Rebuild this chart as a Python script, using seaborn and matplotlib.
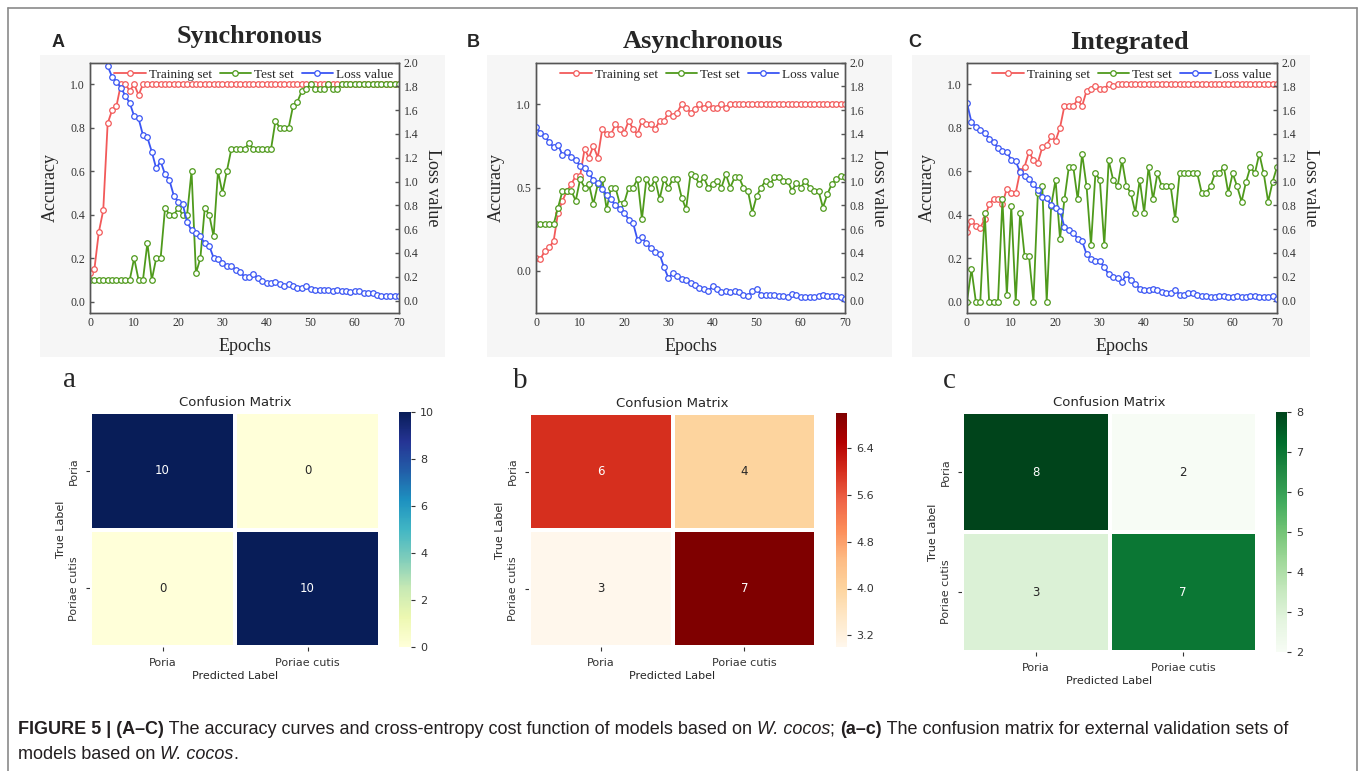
import numpy as np
import pandas as pd
import matplotlib
matplotlib.use("Agg")
import matplotlib.pyplot as plt
import seaborn as sns
from matplotlib.lines import Line2D
from matplotlib.patches import Rectangle
from matplotlib.transforms import IdentityTransform

# ---- data ----
epochs = np.arange(71)

sync_train = [0.13, 0.15, 0.32, 0.42, 0.82, 0.88, 0.90, 1.0, 1.0, 0.97,
              1.0, 0.95, 1.0, 1.0, 1.0, 1.0, 1.0, 1.0, 1.0, 1.0,
              1.0, 1.0, 1.0, 1.0, 1.0, 1.0, 1.0, 1.0, 1.0, 1.0,
              1.0, 1.0, 1.0, 1.0, 1.0, 1.0, 1.0, 1.0, 1.0, 1.0,
              1.0, 1.0, 1.0, 1.0, 1.0, 1.0, 1.0, 1.0, 1.0, 1.0,
              1.0, 1.0, 1.0, 1.0, 1.0, 1.0, 1.0, 1.0, 1.0, 1.0,
              1.0, 1.0, 1.0, 1.0, 1.0, 1.0, 1.0, 1.0, 1.0, 1.0, 1.0]
sync_test = [0.1, 0.1, 0.1, 0.1, 0.1, 0.1, 0.1, 0.1, 0.1, 0.1,
             0.2, 0.1, 0.1, 0.27, 0.1, 0.2, 0.2, 0.43, 0.4, 0.4,
             0.43, 0.4, 0.4, 0.6, 0.13, 0.2, 0.43, 0.4, 0.3, 0.6,
             0.5, 0.6, 0.7, 0.7, 0.7, 0.7, 0.73, 0.7, 0.7, 0.7,
             0.7, 0.7, 0.83, 0.8, 0.8, 0.8, 0.9, 0.92, 0.97, 0.98,
             1.0, 0.98, 0.98, 0.98, 1.0, 0.98, 0.98, 1.0, 1.0, 1.0,
             1.0, 1.0, 1.0, 1.0, 1.0, 1.0, 1.0, 1.0, 1.0, 1.0, 1.0]
sync_loss = [np.nan, np.nan, np.nan, np.nan, 1.97, 1.88, 1.84, 1.79, 1.72, 1.66,
             1.55, 1.53, 1.39, 1.37, 1.25, 1.11, 1.17, 1.06, 1.01, 0.88,
             0.83, 0.81, 0.66, 0.59, 0.57, 0.54, 0.48, 0.46, 0.36, 0.35,
             0.32, 0.29, 0.29, 0.26, 0.24, 0.20, 0.20, 0.22, 0.19, 0.165,
             0.15, 0.15, 0.16, 0.14, 0.12, 0.14, 0.12, 0.11, 0.11, 0.12,
             0.10, 0.09, 0.09, 0.09, 0.09, 0.08, 0.09, 0.08, 0.08, 0.07,
             0.08, 0.08, 0.06, 0.06, 0.06, 0.05, 0.04, 0.04, 0.04, 0.04, 0.04]

async_train = [0.08, 0.07, 0.12, 0.14, 0.18, 0.35, 0.42, 0.48, 0.52, 0.57,
               0.57, 0.73, 0.68, 0.75, 0.68, 0.85, 0.82, 0.82, 0.88, 0.85,
               0.83, 0.90, 0.85, 0.82, 0.90, 0.88, 0.88, 0.85, 0.90, 0.90,
               0.95, 0.93, 0.95, 1.0, 0.98, 0.95, 0.97, 1.0, 0.98, 1.0,
               0.98, 0.98, 1.0, 0.98, 1.0, 1.0, 1.0, 1.0, 1.0, 1.0,
               1.0, 1.0, 1.0, 1.0, 1.0, 1.0, 1.0, 1.0, 1.0, 1.0,
               1.0, 1.0, 1.0, 1.0, 1.0, 1.0, 1.0, 1.0, 1.0, 1.0, 1.0]
async_test = [0.28, 0.28, 0.28, 0.28, 0.28, 0.38, 0.48, 0.48, 0.48, 0.42,
              0.55, 0.50, 0.52, 0.40, 0.52, 0.55, 0.37, 0.50, 0.50, 0.40,
              0.41, 0.50, 0.50, 0.55, 0.31, 0.55, 0.50, 0.55, 0.43, 0.55,
              0.50, 0.55, 0.55, 0.44, 0.37, 0.58, 0.57, 0.52, 0.56, 0.50,
              0.52, 0.54, 0.50, 0.58, 0.50, 0.56, 0.56, 0.50, 0.48, 0.35,
              0.45, 0.50, 0.54, 0.52, 0.56, 0.56, 0.54, 0.54, 0.48, 0.53,
              0.50, 0.54, 0.50, 0.48, 0.48, 0.38, 0.46, 0.52, 0.55, 0.57, 0.56]
async_loss = [1.46, 1.41, 1.38, 1.33, 1.29, 1.31, 1.22, 1.25, 1.21, 1.18,
              1.13, 1.11, 1.07, 1.01, 0.99, 0.94, 0.89, 0.85, 0.80, 0.77,
              0.74, 0.68, 0.65, 0.51, 0.53, 0.48, 0.44, 0.41, 0.39, 0.28,
              0.19, 0.23, 0.21, 0.18, 0.17, 0.15, 0.13, 0.11, 0.10, 0.08,
              0.12, 0.10, 0.07, 0.08, 0.07, 0.08, 0.07, 0.05, 0.04, 0.08,
              0.10, 0.05, 0.045, 0.05, 0.045, 0.04, 0.04, 0.03, 0.055, 0.05,
              0.03, 0.03, 0.03, 0.03, 0.04, 0.05, 0.04, 0.035, 0.035, 0.03, 0.01]

integ_train = [0.32, 0.37, 0.35, 0.34, 0.38, 0.45, 0.47, 0.47, 0.45, 0.52,
               0.50, 0.50, 0.60, 0.62, 0.69, 0.65, 0.64, 0.71, 0.72, 0.76,
               0.74, 0.80, 0.90, 0.90, 0.90, 0.93, 0.90, 0.97, 0.98, 0.99,
               0.98, 0.98, 1.0, 0.99, 1.0, 1.0, 1.0, 1.0, 1.0, 1.0,
               1.0, 1.0, 1.0, 1.0, 1.0, 1.0, 1.0, 1.0, 1.0, 1.0,
               1.0, 1.0, 1.0, 1.0, 1.0, 1.0, 1.0, 1.0, 1.0, 1.0,
               1.0, 1.0, 1.0, 1.0, 1.0, 1.0, 1.0, 1.0, 1.0, 1.0, 1.0]
integ_test = [0.0, 0.15, 0.0, 0.0, 0.41, 0.0, 0.0, 0.0, 0.47, 0.03,
              0.44, 0.0, 0.41, 0.21, 0.21, 0.0, 0.50, 0.53, 0.0, 0.44,
              0.56, 0.29, 0.47, 0.62, 0.62, 0.47, 0.68, 0.53, 0.26, 0.59,
              0.56, 0.26, 0.65, 0.56, 0.53, 0.65, 0.53, 0.50, 0.41, 0.56,
              0.41, 0.62, 0.47, 0.59, 0.53, 0.53, 0.53, 0.38, 0.59, 0.59,
              0.59, 0.59, 0.59, 0.50, 0.50, 0.53, 0.59, 0.59, 0.62, 0.50,
              0.59, 0.53, 0.46, 0.55, 0.62, 0.59, 0.68, 0.59, 0.46, 0.55, 0.62]
integ_loss = [1.66, 1.50, 1.46, 1.43, 1.41, 1.36, 1.33, 1.28, 1.26, 1.25,
              1.18, 1.17, 1.08, 1.05, 1.02, 0.98, 0.93, 0.87, 0.86, 0.80,
              0.78, 0.75, 0.62, 0.59, 0.57, 0.52, 0.50, 0.39, 0.35, 0.33,
              0.33, 0.28, 0.22, 0.20, 0.19, 0.16, 0.22, 0.17, 0.14, 0.10,
              0.09, 0.09, 0.10, 0.09, 0.07, 0.065, 0.06, 0.09, 0.05, 0.05,
              0.06, 0.06, 0.05, 0.04, 0.04, 0.03, 0.03, 0.04, 0.035, 0.03,
              0.03, 0.035, 0.03, 0.03, 0.04, 0.035, 0.03, 0.03, 0.03, 0.035, 0.01]

panel_titles = ["Synchronous", "Asynchronous", "Integrated"]
panel_letters = ["A", "B", "C"]
cm_letters = ["a", "b", "c"]
class_names = ["Poria", "Poriae cutis"]
cm_sync = [[10, 0], [0, 10]]
cm_async = [[6, 4], [3, 7]]
cm_integ = [[8, 2], [3, 7]]

# ---- figure ----
sns.set_style("white")
W, H = 1362, 771
fig = plt.figure(figsize=(W / 100, H / 100), dpi=100)
fig.patch.set_facecolor("white")

def fx(px):
    return px / W

def fy(py):
    return 1 - py / H

SERIF = "Liberation Serif"
SANS = "Liberation Sans"
RED, GREEN, BLUE = "#f25a5a", "#4f9a1c", "#3a55f4"

# light grey backdrop behind the accuracy charts
for x0, x1 in [(40, 445), (487, 892), (912, 1310)]:
    fig.add_artist(Rectangle((fx(x0), fy(357)), fx(x1) - fx(x0), fy(55) - fy(357),
                             transform=fig.transFigure, facecolor="#f6f6f6",
                             edgecolor="none", zorder=0))

line_panels = [
    (90, 399, sync_train, sync_test, sync_loss, (-0.05, 1.1), [0, 0.2, 0.4, 0.6, 0.8, 1.0]),
    (536, 845, async_train, async_test, async_loss, (-0.25, 1.25), [0.0, 0.5, 1.0]),
    (967, 1277, integ_train, integ_test, integ_loss, (-0.05, 1.1), [0, 0.2, 0.4, 0.6, 0.8, 1.0]),
]
title_pos = [(249, 43), (703, 48), (1129, 49)]
letter_pos = [(52, 47), (467, 47), (908, 47)]

for i, (x0, x1, tr, te, lo, ylim, yt) in enumerate(line_panels):
    ax = fig.add_axes([fx(x0), fy(312.5), fx(x1) - fx(x0), fy(62.5) - fy(312.5)])
    ax.set_facecolor("white")
    ax2 = ax.twinx()
    df = pd.DataFrame({"Epoch": epochs, "train": tr, "test": te, "loss": lo})
    kw = dict(marker="o", markersize=4, markerfacecolor="white", markeredgewidth=0.9,
              linewidth=1.3, legend=False)
    sns.lineplot(data=df, x="Epoch", y="train", ax=ax, color=RED, markeredgecolor=RED, **kw)
    sns.lineplot(data=df, x="Epoch", y="test", ax=ax, color=GREEN, markeredgecolor=GREEN, **kw)
    sns.lineplot(data=df, x="Epoch", y="loss", ax=ax2, color=BLUE, markeredgecolor=BLUE, **kw)
    ax.set_xlim(0, 70)
    ax.set_ylim(*ylim)
    ax2.set_ylim(-0.1, 2.0)
    ax.set_xticks(range(0, 71, 10))
    ax.set_xticks(range(5, 70, 10), minor=True)
    ax.set_yticks(yt)
    ax.set_yticklabels([f"{v:.1f}" for v in yt])
    rt = [0.0, 0.2, 0.4, 0.6, 0.8, 1.0, 1.2, 1.4, 1.6, 1.8, 2.0]
    ax2.set_yticks(rt)
    ax2.set_yticklabels([f"{v:.1f}" for v in rt])
    for a in (ax, ax2):
        for s in a.spines.values():
            s.set_color("#555555")
            s.set_linewidth(1.0)
        a.tick_params(direction="in", length=3, width=1, colors="#555555",
                      labelcolor="#333333", labelsize=8.5)
        for lab in a.get_xticklabels() + a.get_yticklabels():
            lab.set_fontfamily(SERIF)
    ax.tick_params(axis="x", which="minor", direction="in", length=2, width=1, colors="#555555")
    ax.set_xlabel("Epochs", fontfamily=SERIF, fontsize=13, labelpad=6)
    ax.set_ylabel("Accuracy", fontfamily=SERIF, fontsize=13, labelpad=8)
    ax2.set_ylabel("Loss value", fontfamily=SERIF, fontsize=13, rotation=270, labelpad=16)
    handles = ax.get_lines()[:2] + ax2.get_lines()[:1]
    ax2.legend(handles, ["Training set", "Test set", "Loss value"], loc="upper right",
               ncol=3, frameon=False, prop={"family": SERIF, "size": 9.5},
               handlelength=2.4, handletextpad=0.2, columnspacing=0.6,
               borderaxespad=0.1, borderpad=0.35)
    tx, ty = title_pos[i]
    fig.text(fx(tx), fy(ty), panel_titles[i], ha="center", va="baseline",
             fontfamily=SERIF, fontweight="bold", fontsize=19)
    lx, ly = letter_pos[i]
    fig.text(fx(lx), fy(ly), panel_letters[i], ha="left", va="baseline",
             fontfamily=SANS, fontweight="bold", fontsize=13)

# ---- confusion matrices ----
cm_panels = [
    (cm_sync, "YlGnBu", (90, 380, 412, 647), (399, 411), [0, 2, 4, 6, 8, 10], (63, 387)),
    (cm_async, "OrRd", (529, 816, 413, 647), (836, 847), [3.2, 4.0, 4.8, 5.6, 6.4], (513, 388)),
    (cm_integ, "Greens", (962, 1257, 412, 652), (1276, 1287), [2, 3, 4, 5, 6, 7, 8], (943, 388)),
]
for i, (cm, cmap, (x0, x1, y0, y1), (c0, c1), cticks, (lx, ly)) in enumerate(cm_panels):
    ax = fig.add_axes([fx(x0), fy(y1), fx(x1) - fx(x0), fy(y0) - fy(y1)])
    cax = fig.add_axes([fx(c0), fy(y1), fx(c1) - fx(c0), fy(y0) - fy(y1)])
    cm_df = pd.DataFrame(cm, index=class_names, columns=class_names)
    sns.heatmap(cm_df, ax=ax, cbar_ax=cax, cmap=cmap, annot=True, fmt="d",
                linewidths=1.5, linecolor="white", annot_kws={"size": 8.5})
    ax.set_title("Confusion Matrix", fontsize=9.5, pad=4)
    ax.set_xlabel("Predicted Label", fontsize=8, labelpad=2)
    ax.set_ylabel("True Label", fontsize=8, labelpad=2)
    ax.tick_params(bottom=True, left=True, labelsize=8, length=3, width=0.8,
                   colors="#333333", pad=5)
    ax.set_yticklabels(class_names, rotation=90, va="center")
    cax.set_yticks(cticks)
    cax.set_yticklabels([str(t) for t in cticks])
    cax.tick_params(right=True, labelsize=8, length=3, width=0.8, colors="#333333")
    fig.text(fx(lx), fy(ly), cm_letters[i], ha="left", va="baseline",
             fontfamily=SERIF, fontsize=21)

# ---- outer frame ----
frame_kw = dict(transform=fig.transFigure, color="#8a8a8a", linewidth=1.2)
fig.add_artist(Line2D([fx(8), fx(1357)], [fy(8), fy(8)], **frame_kw))
fig.add_artist(Line2D([fx(8), fx(8)], [fy(8), 0], **frame_kw))
fig.add_artist(Line2D([fx(1357), fx(1357)], [fy(8), 0], **frame_kw))

# ---- caption (runs of plain / bold / italic text) ----
renderer = fig.canvas.get_renderer()
caption_lines = [
    (734, [("FIGURE 5 | (A\u2013C)", "bold", "normal"),
           (" The accuracy curves and cross-entropy cost function of models based on ", "normal", "normal"),
           ("W. cocos", "normal", "italic"),
           ("; ", "normal", "normal"),
           ("(a\u2013c)", "bold", "normal"),
           (" The confusion matrix for external validation sets of", "normal", "normal")]),
    (759, [("models based on ", "normal", "normal"),
           ("W. cocos", "normal", "italic"),
           (".", "normal", "normal")]),
]
for base, runs in caption_lines:
    x = 18
    for txt, weight, style in runs:
        t = fig.text(x, H - base, txt, transform=IdentityTransform(), fontfamily=SANS,
                     fontsize=13, fontweight=weight, fontstyle=style,
                     color="#231f20", ha="left", va="baseline")
        x += t.get_window_extent(renderer=renderer).width

fig.savefig("out.png", dpi=100)
